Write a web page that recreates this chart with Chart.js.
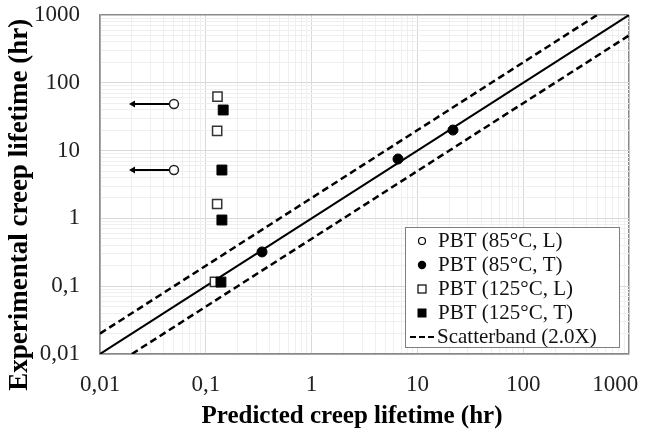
<!DOCTYPE html>
<html>
<head>
<meta charset="utf-8">
<script src="https://cdn.jsdelivr.net/npm/chart.js@4.4.1/dist/chart.umd.min.js"></script>
<style>
  html, body { margin: 0; padding: 0; background: #fff; }
  #wrap { width: 651px; height: 438px; }
</style>
</head>
<body>
<div id="wrap"><canvas id="myChart" width="651" height="438"></canvas></div>
<script>
// PBT (85°C, L) - runouts, arrows point to the left
var l85_x = [0.05, 0.05];
var l85_y = [48.7, 5.17];
var l85_arrowTo = [0.0205, 0.0205];

// PBT (85°C, T)
var t85_x = [0.34, 6.56, 21.7];
var t85_y = [0.32, 7.52, 20.1];

// PBT (125°C, L)
var l125_x = [0.129, 0.128, 0.128, 0.122];
var l125_y = [62.4, 19.5, 1.63, 0.116];

// PBT (125°C, T)
var t125_x = [0.146, 0.142, 0.142, 0.139];
var t125_y = [39.7, 5.17, 0.947, 0.115];

// 1:1 line and scatterband (2.0X)
var line_x = [0.01, 1000];
var line_y = [0.01, 1000];
var bandUp_x = [0.01, 500];
var bandUp_y = [0.02, 1000];
var bandLo_x = [0.02, 1000];
var bandLo_y = [0.01, 500];

var decades = [0.01, 0.1, 1, 10, 100, 1000];
var decadeLabels = ['0,01', '0,1', '1', '10', '100', '1000'];

var SERIF = "'Liberation Serif', 'DejaVu Serif', serif";

function pts(xs, ys) {
    var out = [];
    for (var i = 0; i < xs.length; i++) {
        out.push({x: xs[i], y: ys[i]});
    }
    return out;
}

function isDecade(v) {
    var l = Math.log10(v);
    return Math.abs(l - Math.round(l)) < 1e-9;
}

function decadeIndex(v) {
    for (var i = 0; i < decades.length; i++) {
        if (Math.abs(v - decades[i]) < decades[i] * 1e-6) return i;
    }
    return -1;
}

// every 1..9 x 10^k between 0.01 and 1000, for the minor grid
function logTicks(scale) {
    var t = [];
    for (var k = -2; k <= 2; k++) {
        for (var m = 1; m <= 9; m++) {
            t.push({value: Number((m * Math.pow(10, k)).toPrecision(3))});
        }
    }
    t.push({value: 1000});
    scale.ticks = t;
}

function gridColor(c) {
    var v = c.tick ? c.tick.value : 0;
    if (decadeIndex(v) === 0 || decadeIndex(v) === 5) return '#8a8a8a';
    return isDecade(v) ? '#d9d9d9' : '#efefef';
}

function gridWidth(c) {
    var v = c.tick ? c.tick.value : 0;
    if (decadeIndex(v) === 0 || decadeIndex(v) === 5) return 1.5;
    return 1;
}

// keep the plot box fixed, labels may hang outside it
function noPadding(scale) {
    scale.paddingLeft = 0;
    scale.paddingRight = 0;
    scale.paddingTop = 0;
    scale.paddingBottom = 0;
}

// arrows for the runouts (line + left pointing head)
var arrowSets = [];
for (var a = 0; a < l85_x.length; a++) {
    arrowSets.push({
        type: 'line',
        data: pts([l85_arrowTo[a], l85_x[a]], [l85_y[a], l85_y[a]]),
        borderColor: '#000',
        backgroundColor: '#000',
        borderWidth: 2,
        pointStyle: 'triangle',
        pointRotation: 270,
        pointRadius: [4, 0],
        pointBorderWidth: 0,
        order: 5
    });
}

var legendItems = [
    {label: 'PBT (85°C, L)', kind: 'openCircle'},
    {label: 'PBT (85°C, T)', kind: 'circle'},
    {label: 'PBT (125°C, L)', kind: 'openRect'},
    {label: 'PBT (125°C, T)', kind: 'rect'},
    {label: 'Scatterband (2.0X)', kind: 'dash'}
];

var legendBox = {
    id: 'legendBox',
    afterDraw: function (chart) {
        var ctx = chart.ctx;
        var area = chart.chartArea;
        var w = 214, h = 120;
        var x0 = area.right - 10 - w;
        var y0 = area.bottom - 7 - h;
        ctx.save();
        ctx.fillStyle = '#fff';
        ctx.fillRect(x0, y0, w, h);
        ctx.strokeStyle = '#7f7f7f';
        ctx.lineWidth = 1;
        ctx.strokeRect(x0 + 0.5, y0 + 0.5, w, h);
        ctx.font = '21px ' + SERIF;
        ctx.textBaseline = 'middle';
        ctx.textAlign = 'left';
        for (var i = 0; i < legendItems.length; i++) {
            var it = legendItems[i];
            var cy = y0 + 14 + i * 24;
            var mx = x0 + 17;
            ctx.strokeStyle = '#000';
            ctx.fillStyle = '#000';
            ctx.lineWidth = 1.2;
            ctx.setLineDash([]);
            if (it.kind === 'openCircle') {
                ctx.beginPath(); ctx.arc(mx, cy, 3.5, 0, Math.PI * 2);
                ctx.fillStyle = '#fff'; ctx.fill(); ctx.stroke();
            } else if (it.kind === 'circle') {
                ctx.beginPath(); ctx.arc(mx, cy, 4.2, 0, Math.PI * 2); ctx.fill();
            } else if (it.kind === 'openRect') {
                ctx.fillStyle = '#fff';
                ctx.fillRect(mx - 4, cy - 4, 8, 8);
                ctx.strokeRect(mx - 4, cy - 4, 8, 8);
            } else if (it.kind === 'rect') {
                ctx.fillRect(mx - 4.5, cy - 4.5, 9, 9);
            } else {
                ctx.lineWidth = 2;
                ctx.setLineDash([6, 3]);
                ctx.beginPath(); ctx.moveTo(x0 + 5, cy); ctx.lineTo(x0 + 32, cy); ctx.stroke();
                ctx.setLineDash([]);
            }
            ctx.fillStyle = '#111';
            ctx.fillText(it.label, (it.kind === 'dash' ? x0 + 32 : x0 + 33), cy);
        }
        ctx.restore();
    }
};

var ctx = document.getElementById('myChart').getContext('2d');
var chart = new Chart(ctx, {
    type: 'scatter',
    data: {
        datasets: [
            {
                label: 'PBT (85°C, L)',
                data: pts(l85_x, l85_y),
                pointStyle: 'circle',
                pointRadius: 4.5,
                backgroundColor: '#fff',
                borderColor: '#222',
                pointBorderWidth: 1.5,
                order: 1
            },
            {
                label: 'PBT (85°C, T)',
                data: pts(t85_x, t85_y),
                pointStyle: 'circle',
                pointRadius: 5,
                backgroundColor: '#000',
                borderColor: '#000',
                pointBorderWidth: 1,
                order: 1
            },
            {
                label: 'PBT (125°C, L)',
                data: pts(l125_x, l125_y),
                pointStyle: 'rect',
                pointRadius: 6.5,
                backgroundColor: '#fff',
                borderColor: '#333',
                pointBorderWidth: 1.5,
                order: 2
            },
            {
                label: 'PBT (125°C, T)',
                data: pts(t125_x, t125_y),
                pointStyle: 'rect',
                pointRadius: 7,
                backgroundColor: '#000',
                borderColor: '#000',
                pointBorderWidth: 1,
                order: 1
            },
            {
                type: 'line',
                label: '1:1',
                data: pts(line_x, line_y),
                borderColor: '#000',
                borderWidth: 2,
                pointRadius: 0,
                order: 6
            },
            {
                type: 'line',
                label: 'Scatterband (2.0X)',
                data: pts(bandUp_x, bandUp_y),
                borderColor: '#000',
                borderWidth: 2.5,
                borderDash: [7, 4],
                pointRadius: 0,
                order: 6
            },
            {
                type: 'line',
                label: 'Scatterband low',
                data: pts(bandLo_x, bandLo_y),
                borderColor: '#000',
                borderWidth: 2.5,
                borderDash: [7, 4],
                pointRadius: 0,
                order: 6
            }
        ].concat(arrowSets)
    },
    plugins: [legendBox],
    options: {
        responsive: false,
        animation: false,
        layout: { padding: { top: 15, right: 22, left: 0, bottom: 0 } },
        plugins: {
            legend: { display: false },
            tooltip: { enabled: false }
        },
        scales: {
            x: {
                type: 'logarithmic',
                min: 0.01,
                max: 1000,
                afterBuildTicks: logTicks,
                afterFit: function (scale) { scale.height = 84; noPadding(scale); },
                grid: { color: gridColor, lineWidth: gridWidth, drawTicks: false },
                border: { color: '#8a8a8a', width: 1.5 },
                ticks: {
                    autoSkip: false,
                    maxRotation: 0,
                    padding: 17,
                    color: '#222',
                    font: { family: SERIF, size: 23 },
                    callback: function (v) {
                        var i = decadeIndex(v);
                        if (i < 0) return '';
                        // last label is pulled inside like the original
                        return i === 5 ? decadeLabels[i] + '\u2003\u2009' : decadeLabels[i];
                    }
                },
                title: {
                    display: true,
                    // trailing space nudges the centred title a little to the left
                    text: 'Predicted creep lifetime (hr)\u2003',
                    color: '#000',
                    font: { family: SERIF, size: 25, weight: 'bold' },
                    padding: { top: 0, bottom: 6 }
                }
            },
            y: {
                type: 'logarithmic',
                min: 0.01,
                max: 1000,
                afterBuildTicks: logTicks,
                afterFit: function (scale) { scale.width = 100; noPadding(scale); },
                grid: { color: gridColor, lineWidth: gridWidth, drawTicks: false },
                border: { color: '#8a8a8a', width: 1.5 },
                ticks: {
                    autoSkip: false,
                    padding: 20,
                    color: '#222',
                    font: { family: SERIF, size: 23 },
                    callback: function (v) {
                        var i = decadeIndex(v);
                        return i < 0 ? '' : decadeLabels[i];
                    }
                },
                title: {
                    display: true,
                    // trailing space moves the rotated title down like the original
                    text: 'Experimental creep lifetime (hr)\u2003\u2002',
                    color: '#000',
                    font: { family: SERIF, size: 27, weight: 'bold' },
                    padding: { top: 4, bottom: 0 }
                }
            }
        }
    }
});
</script>
</body>
</html>
